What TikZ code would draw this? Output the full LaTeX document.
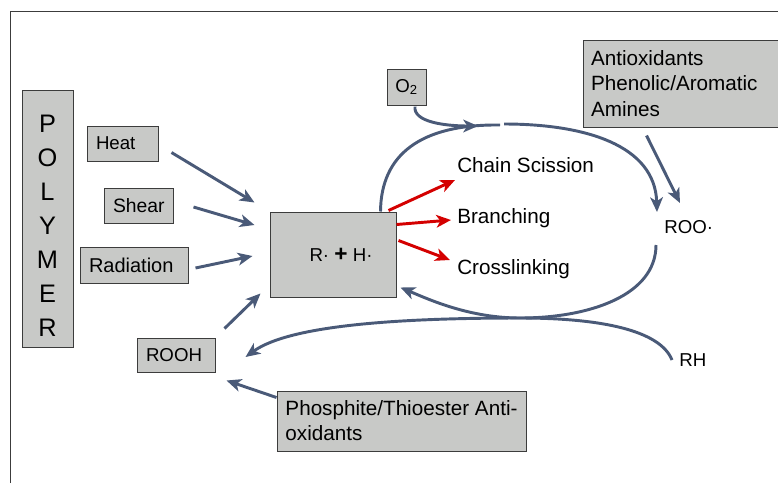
\documentclass[tikz,border=0pt]{standalone}
\usepackage{fontspec}
\setmainfont{Liberation Sans}
\definecolor{boxgray}{RGB}{200,201,199}
\definecolor{slate}{RGB}{74,90,120}
\definecolor{chainred}{RGB}{212,0,0}
\definecolor{framegray}{RGB}{60,60,60}
\usetikzlibrary{arrows.meta,calc}

\begin{document}
\begin{tikzpicture}[x=0.75pt,y=-0.75pt,
  graybox/.style={draw=framegray,fill=boxgray,line width=0.75pt,inner xsep=6.75pt,inner ysep=0pt,
    align=left,font=\fontsize{14}{18.75}\selectfont},
  plaintext/.style={inner sep=0pt,font=\fontsize{14}{18.75}\selectfont},
  bigtext/.style={font=\fontsize{15.5}{19.3}\selectfont},
  flow/.style={draw=slate,line width=2.2pt,-{Stealth[length=11pt,width=9.5pt,inset=3pt]}},
  redflow/.style={draw=chainred,line width=2.2pt,-{Stealth[length=11pt,width=9.5pt,inset=3pt]}}
]
  \useasboundingbox (0,0) rectangle (778,483);
  \clip (0,0) rectangle (778,483);
  \draw[framegray,line width=0.75pt] (10,483) |- (778,11);

  % sources on the left
  \node[graybox,minimum width=38.25pt,minimum height=192.75pt,inner xsep=0pt,align=center,
    font=\fontsize{19}{25.6}\selectfont] (polymer) at (47.5,218.5) {\rule{0pt}{24pt}P\\O\\L\\Y\\M\\E\\R};
  \node[graybox,minimum width=53.25pt,minimum height=26.25pt,text width=39.75pt] (heat) at (122.5,143.5) {Heat};
  \node[graybox,minimum width=51.75pt,minimum height=26.25pt,text width=38.25pt,
    font=\fontsize{14.5}{18.75}\selectfont] (shear) at (138.5,205.5) {Shear};
  \node[graybox,minimum width=81pt,minimum height=27pt,text width=67.5pt,
    font=\fontsize{15}{18.75}\selectfont] (radiation) at (134,265) {Radiation};
  \node[graybox,minimum width=58.5pt,minimum height=25.5pt,text width=45pt] (rooh) at (176,355) {ROOH};

  % radicals in the middle
  \node[graybox,minimum width=94.5pt,minimum height=63.75pt,align=center] (radical) at (333,254.5)
    {\hspace*{12pt}R· {\fontsize{17}{17}\selectfont\bfseries +} H·};

  % oxygen and stabilisers
  \node[graybox,minimum width=29.25pt,minimum height=27pt,align=center,inner xsep=0pt] (otwo) at (406.5,87) {O\textsubscript{2}};
  \node[graybox,bigtext,minimum width=155.25pt,minimum height=65.25pt,text width=143.25pt,inner xsep=6pt] (antiox) at (686.5,83.5)
    {Antioxidants\\Phenolic/Aromatic\\Amines};
  \node[graybox,bigtext,minimum width=186.75pt,minimum height=45pt,inner xsep=0pt] (phosphite) at (401.5,421)
    {Phosphite/Thioester Anti-\\[-0.55pt]oxidants};

  % products and cycle labels
  \node[plaintext,bigtext,anchor=base west] (scission) at (457,172) {Chain Scission};
  \node[plaintext,bigtext,anchor=base west] (branching) at (457,223) {Branching};
  \node[plaintext,bigtext,anchor=base west] (crosslink) at (457,274) {Crosslinking};
  \node[plaintext,anchor=base west] (roo) at (664,233) {ROO·};
  \node[plaintext,anchor=base west] (rh) at (679,366) {RH};

  \coordinate (looptop) at (500,125);
  \coordinate (o2tip) at (478,126);
  \coordinate (loopbot) at (520,318);

  % straight arrows
  \draw[flow] ($(heat.east)+(13,9)$) -- ($(radical.north west)+(-15,-9)$);
  \draw[flow] ($(shear.east)+(20,1.5)$) -- ($(radical.west)+(-15,-29.5)$);
  \draw[flow] ($(radiation.east)+(7,3)$) -- ($(radical.west)+(-17,1.5)$);
  \draw[flow] ($(rooh.north east)+(9,-9)$) -- ($(radical.south west)+(-9,-4)$);
  \draw[flow] ($(phosphite.north west)+(0,7)$) -- ($(rooh.south east)+(11,8)$);
  \draw[flow] ($(antiox.south west)+(64,8)$) -- ($(roo.base west)+(16,-30)$);

  \draw[redflow] ($(radical.north east)+(-8,-1)$) -- ($(scission.base west)+(-2,8)$);
  \draw[redflow] ($(radical.east)+(0,-30)$) -- ($(branching.base west)+(-6,-3)$);
  \draw[redflow] ($(radical.east)+(2,-14)$) -- ($(crosslink.base west)+(-7,-14)$);

  % oxidation cycle
  \draw[slate,line width=2.2pt] ($(radical.north east)+(-16,0)$) .. controls (381,155) and (420,124) .. (looptop);
  \draw[flow] ($(looptop)+(4,-1)$) .. controls (585,124) and (655,145) .. ($(roo.base west)+(-7,-21)$);
  \draw[flow] ($(otwo.south)+(8.5,1)$) .. controls (413,122) and (445,126) .. (o2tip);
  \draw[flow] ($(roo.base west)+(-8,12)$) .. controls (656,295) and (590,318) .. (loopbot)
    .. controls (470,318) and (430,300) .. ($(radical.south east)+(4,-10)$);
  \draw[flow] ($(rh.base west)+(-7,-6)$) .. controls (660,330) and (600,318) .. (loopbot)
    .. controls (400,318) and (290,325) .. ($(rooh.east)+(30,2)$);
\end{tikzpicture}
\end{document}
